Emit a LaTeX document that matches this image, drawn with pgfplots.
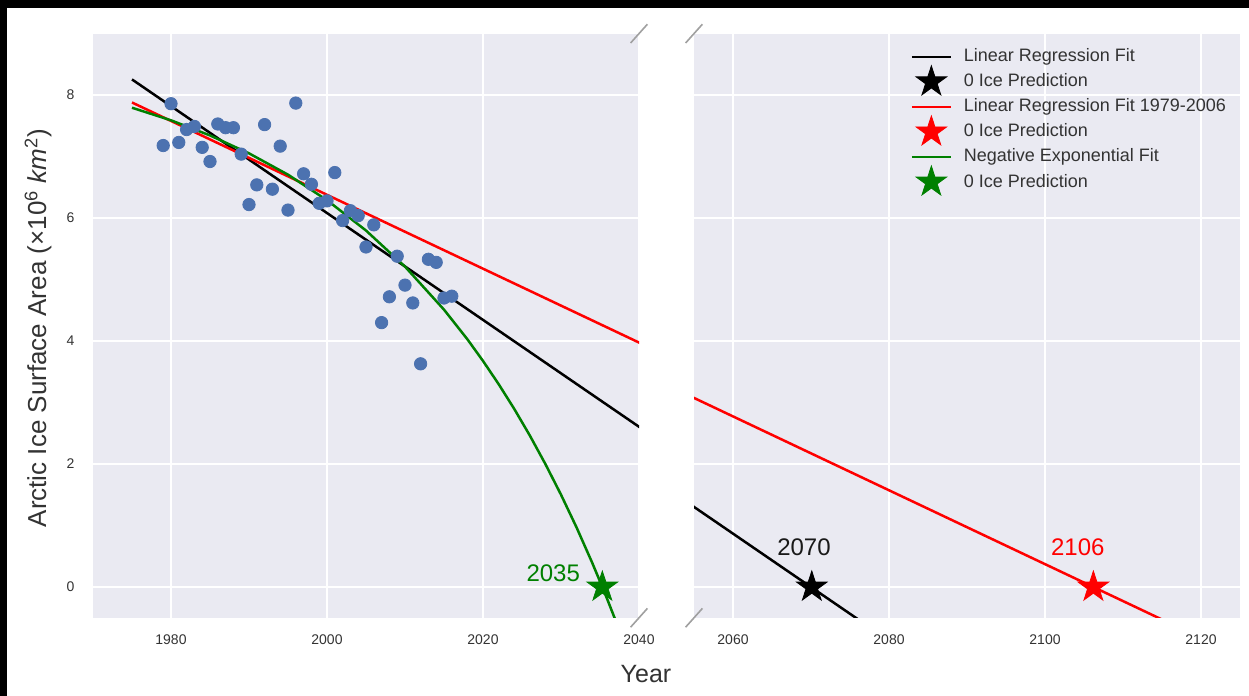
\documentclass[border=0pt]{standalone}
\usepackage{fontspec}
\setmainfont{Liberation Sans}
\usepackage{pgfplots}
\pgfplotsset{compat=1.18}
\definecolor{bgc}{HTML}{EAEAF2}
\definecolor{dotblue}{HTML}{4C72B0}
\definecolor{txt}{HTML}{333333}
\definecolor{mgreen}{HTML}{008000}
\definecolor{mred}{HTML}{FF0000}
\definecolor{brk}{HTML}{A0A0A0}

\pgfdeclareplotmark{fstar}{%
 \pgfpathmoveto{\pgfpointpolar{90}{\pgfplotmarksize}}%
 \pgfpathlineto{\pgfpointpolar{126}{0.382\pgfplotmarksize}}%
 \pgfpathlineto{\pgfpointpolar{162}{\pgfplotmarksize}}%
 \pgfpathlineto{\pgfpointpolar{198}{0.382\pgfplotmarksize}}%
 \pgfpathlineto{\pgfpointpolar{234}{\pgfplotmarksize}}%
 \pgfpathlineto{\pgfpointpolar{270}{0.382\pgfplotmarksize}}%
 \pgfpathlineto{\pgfpointpolar{306}{\pgfplotmarksize}}%
 \pgfpathlineto{\pgfpointpolar{342}{0.382\pgfplotmarksize}}%
 \pgfpathlineto{\pgfpointpolar{18}{\pgfplotmarksize}}%
 \pgfpathlineto{\pgfpointpolar{54}{0.382\pgfplotmarksize}}%
 \pgfpathclose
 \pgfusepathqfillstroke
}

\pgfplotsset{
  panel/.style={
    scale only axis, width=273pt, height=292.1pt,
    ymin=-0.5, ymax=9,
    axis background/.style={fill=bgc},
    axis line style={draw=none},
    major tick length=0pt,
    grid=major, grid style={white, line width=0.9pt},
    ytick={0,2,4,6,8},
    tick label style={font=\fontsize{7}{8}\selectfont, text=txt},
    /pgf/number format/assume math mode=true,
    /pgf/number format/1000 sep={},
    xticklabel style={yshift=-4.8pt},
    yticklabel style={xshift=-5.75pt},
    anchor=south west,
  },
  lnleg/.style={legend image code/.code={\path[draw=none,fill=none] (0pt,-1pt) rectangle (25pt,1pt); \draw[##1] (0pt,0pt) -- (19.5pt,0pt);}},
  stleg/.style={legend image code/.code={\path[draw=none,fill=none] (0pt,-1pt) rectangle (25pt,1pt); \draw[##1,overlay] plot coordinates {(9.75pt,0pt)};}},
}

\pgfplotstableread{
year area
1979 7.18
1980 7.86
1981 7.23
1982 7.44
1983 7.49
1984 7.15
1985 6.92
1986 7.53
1987 7.47
1988 7.47
1989 7.04
1990 6.22
1991 6.54
1992 7.52
1993 6.47
1994 7.17
1995 6.13
1996 7.87
1997 6.72
1998 6.55
1999 6.24
2000 6.28
2001 6.74
2002 5.96
2003 6.12
2004 6.04
2005 5.53
2006 5.89
2007 4.30
2008 4.72
2009 5.38
2010 4.91
2011 4.62
2012 3.63
2013 5.33
2014 5.28
2015 4.70
2016 4.73
}\icedata

\begin{document}
\begin{tikzpicture}
\useasboundingbox (0,0) rectangle (624.5pt,348pt);
\fill[white] (0,0) rectangle (624.5pt,348pt);

% left panel
\begin{axis}[panel, name=L, at={(46.5pt,39.1pt)},
  xmin=1970, xmax=2040, xtick={1980,2000,2020,2040}]
\addplot[only marks, mark=*, mark size=3.1pt, color=dotblue, mark options={draw=dotblue, fill=dotblue}] table[x=year, y=area] {\icedata};
\addplot[black, line width=1.25pt] coordinates {(1975,8.255) (2125,-4.78)};
\addplot[mred, line width=1.25pt] coordinates {(1975,7.880) (2125,-1.129)};
\addplot[mgreen, line width=1.25pt] coordinates {
(1975,7.795) (1980,7.590) (1985,7.344) (1990,7.053) (1995,6.706) (2000,6.291)
(2005,5.798) (2010,5.211) (2015,4.511) (2018,4.029) (2020,3.677) (2022,3.301)
(2024,2.898) (2026,2.465) (2028,2.000) (2030,1.502) (2032,0.968) (2034,0.395)
(2035.3,0) (2036,-0.220) (2037,-0.544)};
\addplot[only marks, mark=fstar, mark size=8pt, color=mgreen, mark options={fill=mgreen}] coordinates {(2035.3,0)};
\node[text=mgreen, font=\fontsize{12}{14}\selectfont] at (axis cs:2029.0,0.23) {2035};
\end{axis}

% right panel
\begin{axis}[panel, name=R, at={(347pt,39.1pt)},
  xmin=2055, xmax=2125, xtick={2060,2080,2100,2120}, yticklabels={},
  legend cell align=left,
  legend style={draw=none, fill=none, at={(0.385,0.985)}, anchor=north west,
    font=\fontsize{9}{10}\selectfont, text=txt, row sep=2.5pt,
    nodes={inner sep=1pt}}]
\addlegendimage{lnleg, black, line width=1.25pt}
\addlegendentry{Linear Regression Fit}
\addlegendimage{stleg, black, mark=fstar, mark size=8pt, mark options={fill=black}}
\addlegendentry{0 Ice Prediction}
\addlegendimage{lnleg, mred, line width=1.25pt}
\addlegendentry{Linear Regression Fit 1979-2006}
\addlegendimage{stleg, mred, mark=fstar, mark size=8pt, mark options={fill=mred}}
\addlegendentry{0 Ice Prediction}
\addlegendimage{lnleg, mgreen, line width=1.25pt}
\addlegendentry{Negative Exponential Fit}
\addlegendimage{stleg, mgreen, mark=fstar, mark size=8pt, mark options={fill=mgreen}}
\addlegendentry{0 Ice Prediction}
\addplot[black, line width=1.25pt, forget plot] coordinates {(1975,8.255) (2125,-4.78)};
\addplot[mred, line width=1.25pt, forget plot] coordinates {(1975,7.880) (2125,-1.129)};
\addplot[only marks, mark=fstar, mark size=8pt, color=black, mark options={fill=black}, forget plot] coordinates {(2070.1,0)};
\addplot[only marks, mark=fstar, mark size=8pt, color=mred, mark options={fill=mred}, forget plot] coordinates {(2106.2,0)};
\node[text=black!90, font=\fontsize{12}{14}\selectfont] at (axis cs:2069.1,0.65) {2070};
\node[text=mred, font=\fontsize{12}{14}\selectfont] at (axis cs:2104.2,0.65) {2106};
\end{axis}

% break marks
\draw[brk, line width=0.8pt] ([shift={(-4.2pt,-4.7pt)}]L.north east) -- ([shift={(4.2pt,4.7pt)}]L.north east);
\draw[brk, line width=0.8pt] ([shift={(-4.2pt,-4.7pt)}]L.south east) -- ([shift={(4.2pt,4.7pt)}]L.south east);
\draw[brk, line width=0.8pt] ([shift={(-4.2pt,-4.7pt)}]R.north west) -- ([shift={(4.2pt,4.7pt)}]R.north west);
\draw[brk, line width=0.8pt] ([shift={(-4.2pt,-4.7pt)}]R.south west) -- ([shift={(4.2pt,4.7pt)}]R.south west);

% labels
\node[rotate=90, font=\fontsize{13}{15}\selectfont, text=txt] at (19pt,184pt) {Arctic Ice Surface Area (×10\textsuperscript{6} \textit{km}\textsuperscript{2})};
\node[font=\fontsize{12.5}{15}\selectfont, text=txt] at (323pt,11pt) {Year};

% screenshot frame
\fill[black] (0,0) rectangle (3.5pt,348pt);
\fill[black] (0,344pt) rectangle (624.5pt,348pt);
\end{tikzpicture}
\end{document}
